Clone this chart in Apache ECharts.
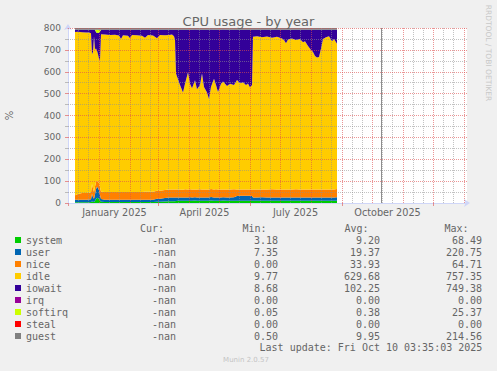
<!DOCTYPE html>
<html><head><meta charset="utf-8">
<script src="https://cdn.jsdelivr.net/npm/echarts@6/dist/echarts.min.js"></script>
<style>html,body{margin:0;padding:0;background:#F0F0F0}#c{width:497px;height:371px}</style>
</head><body><div id="c"></div>
<script>
const dates = ['2024-12-08','2024-12-11','2024-12-15','2024-12-19','2024-12-22','2024-12-24','2024-12-25','2024-12-26','2024-12-27','2024-12-28','2024-12-29','2024-12-30','2024-12-31',
'2025-01-01','2025-01-02','2025-01-03','2025-01-07','2025-01-12','2025-01-17','2025-01-21','2025-01-23','2025-01-25','2025-01-30',
'2025-02-01','2025-02-03','2025-02-08','2025-02-13','2025-02-16','2025-02-19','2025-02-24','2025-02-28',
'2025-03-03','2025-03-08','2025-03-12','2025-03-15','2025-03-17','2025-03-18','2025-03-19','2025-03-21','2025-03-23','2025-03-26','2025-03-28','2025-03-31',
'2025-04-02','2025-04-04','2025-04-07','2025-04-09','2025-04-12','2025-04-14','2025-04-16','2025-04-19','2025-04-21','2025-04-23','2025-04-26','2025-04-28','2025-04-30',
'2025-05-03','2025-05-05','2025-05-09','2025-05-12','2025-05-16','2025-05-19','2025-05-22','2025-05-25','2025-05-28','2025-05-30',
'2025-06-01','2025-06-03','2025-06-04','2025-06-08','2025-06-13','2025-06-18','2025-06-23','2025-06-28',
'2025-07-03','2025-07-05','2025-07-07','2025-07-09','2025-07-13','2025-07-17','2025-07-21','2025-07-24','2025-07-26','2025-07-29',
'2025-08-01','2025-08-03','2025-08-05','2025-08-07','2025-08-09','2025-08-11','2025-08-13','2025-08-16','2025-08-19','2025-08-22','2025-08-24','2025-08-27'];

const system = [4,4,4,4,4,5,7,6,5,10,18,24,22,
18,12,6,5,5,5,5,5,5,5,
5,5,5,5,5,5,5,6,
6,7,8,8,8,8,9,10,10,10,10,10,
10,10,11,10,10,10,10,10,10,11,10,10,10,
10,11,10,10,10,10,10,10,10,10,
10,10,10,10,10,10,10,10,
10,10,10,10,10,10,10,10,10,10,
10,10,10,10,10,10,10,10,10,10,10,10];
const user = [11,11,11,11,12,12,35,20,14,30,45,50,48,
40,25,12,10,10,10,10,10,10,10,
10,10,10,10,10,10,10,13,
14,16,17,17,17,17,16,15,15,15,15,15,
16,15,15,15,15,15,15,15,15,16,15,15,15,
15,15,15,15,16,22,23,23,23,23,
23,22,15,15,16,15,15,15,
15,15,15,15,15,15,15,15,15,15,
15,15,15,15,15,15,15,15,15,15,15,16];
const nice = [20,26,31,31,31,31,45,40,31,35,32,27,28,
32,35,33,35,35,35,35,35,35,35,
35,35,35,35,36,36,36,37,
36,36,37,37,37,37,37,37,37,36,38,37,
37,37,36,37,38,37,37,37,37,37,37,38,37,
37,36,37,37,37,30,29,29,29,29,
29,30,37,37,36,37,38,37,
37,37,37,37,37,38,37,37,37,37,
37,37,37,37,37,37,37,37,37,37,37,38];
const idle = [747,742,735,733,733,728,593,626,712,627,611,595,582,
570,580,721,720,718,719,716,700,717,715,
703,718,717,715,705,717,715,697,
712,708,706,708,700,683,530,504,478,444,482,536,
482,463,499,458,477,530,468,443,413,467,506,477,446,
483,494,473,483,477,500,486,490,478,484,
466,478,698,700,696,699,693,698,
690,683,668,686,690,682,688,673,678,656,
638,628,610,603,606,643,688,696,700,678,688,664];
const iowait = [10,9,11,13,12,16,112,100,30,90,76,81,97,
120,132,20,22,24,23,26,42,25,27,
39,24,25,27,36,24,26,39,
24,25,24,22,30,47,200,226,252,287,247,194,
247,267,232,272,252,200,262,287,317,262,224,252,284,
247,237,257,247,252,230,244,240,252,246,
264,252,32,30,34,31,36,32,
40,47,62,44,40,47,42,57,52,74,
92,102,120,127,124,87,42,34,30,52,42,64];
const irq = [0,0,0,0,0,0,0,0,0,0,0,0,0, 0,0,0,0,0,0,0,0,0,0, 0,0,0,0,0,0,0,0, 0,0,0,0,0,0,0,0,0,0,0,0,
0,0,0,0,0,0,0,0,0,0,0,0,0, 0,0,0,0,0,0,0,0,0,0, 0,0,0,0,0,0,0,0, 0,0,0,0,0,0,0,0,0,0, 0,0,0,0,0,0,0,0,0,0,0,0];
const softirq = [0.4,0.4,0.4,0.4,0.4,0.4,0.4,0.4,0.4,0.4,10,15,15,
12,8,0.4,0.4,0.4,0.4,0.4,0.4,0.4,0.4,
0.4,0.4,0.4,0.4,0.4,0.4,0.4,0.4,
0.4,0.4,0.4,0.4,0.4,0.4,0.4,0.4,0.4,0.4,0.4,0.4,
0.4,0.4,0.4,0.4,0.4,0.4,0.4,0.4,0.4,0.4,0.4,0.4,0.4,
0.4,0.4,0.4,0.4,0.4,0.4,0.4,0.4,0.4,0.4,
0.4,0.4,0.4,0.4,0.4,0.4,0.4,0.4,
0.4,0.4,0.4,0.4,0.4,0.4,0.4,0.4,0.4,0.4,
0.4,0.4,0.4,0.4,0.4,0.4,0.4,0.4,0.4,0.4,0.4,0.4];
const steal = [0,0,0,0,0,0,0,0,0,0,0,0,0, 0,0,0,0,0,0,0,0,0,0, 0,0,0,0,0,0,0,0, 0,0,0,0,0,0,0,0,0,0,0,0,
0,0,0,0,0,0,0,0,0,0,0,0,0, 0,0,0,0,0,0,0,0,0,0, 0,0,0,0,0,0,0,0, 0,0,0,0,0,0,0,0,0,0, 0,0,0,0,0,0,0,0,0,0,0,0];
const guest = [8,8,8,8,8,8,8,8,8,8,8,8,8, 8,8,8,8,8,8,8,8,8,8, 8,8,8,8,8,8,8,8, 8,8,8,8,8,8,8,8,8,8,8,8,
8,8,8,8,8,8,8,8,8,8,8,8,8, 8,8,8,8,8,8,8,8,8,8, 8,8,8,8,8,8,8,8, 8,8,8,8,8,8,8,8,8,8, 8,8,8,8,8,8,8,8,8,8,8,8];

const seriesNames = ['system','user','nice','idle','iowait','irq','softirq','steal','guest'];
const seriesColors = ['#00CC00','#0066B3','#FF8000','#FFCC00','#330099','#990099','#CCFF00','#FF0000','#808080'];
const legendCur = '-nan';
const legendMin = ['3.18','7.35','0.00','9.77','8.68','0.00','0.05','0.00','0.50'];
const legendAvg = ['9.20','19.37','33.93','629.68','102.25','0.00','0.38','0.00','9.95'];
const legendMax = ['68.49','220.75','64.71','757.35','749.38','0.00','25.37','0.00','214.56'];
const legendHeaders = ['Cur:','Min:','Avg:','Max:'];

const axisStart = '2024-12-01';
const axisDays = 399;
const monthStarts = ['2024-12-01','2025-01-01','2025-02-01','2025-03-01','2025-04-01','2025-05-01','2025-06-01','2025-07-01','2025-08-01','2025-09-01','2025-10-01','2025-11-01','2025-12-01','2026-01-01'];
const xTickDates = ['2024-12-01','2025-03-01','2025-06-01','2025-09-01','2025-12-01'];
const xLabelDates = ['2025-01-16T12:00:00Z','2025-04-16T12:00:00Z','2025-07-16T12:00:00Z','2025-10-16T12:00:00Z'];
const xLabelTexts = ['January 2025','April 2025','July 2025','October 2025'];
const nowDate = '2025-10-10T03:35:03Z';
const lastUpdate = 'Last update: Fri Oct 10 03:35:03 2025';
const yMajor = [100,200,300,400,500,600,700,800];
const yMinor = [50,150,250,350,450,550,650,750];

const DAY = 86400000;
const T0 = Date.parse(axisStart);
const T1 = T0 + axisDays * DAY;
const MAJ = 'rgba(222,79,79,0.6)';
const MIN = 'rgba(143,143,143,0.55)';

const layers = [system,user,nice,idle,iowait,irq,softirq,steal,guest];
const series = layers.map((arr, i) => ({
  name: seriesNames[i], type: 'line', stack: 'cpu', symbol: 'none', showSymbol: false,
  xAxisIndex: 0, yAxisIndex: 0,
  color: seriesColors[i],
  lineStyle: {width: 0, color: seriesColors[i]},
  itemStyle: {color: seriesColors[i]},
  areaStyle: {color: seriesColors[i], opacity: 1},
  data: dates.map((d, j) => [Date.parse(d), arr[j]]),
  animation: false, silent: true, z: 2
}));

const gridLines = [];
monthStarts.forEach(m => {
  const t = Date.parse(m);
  if (t > T0 && t <= T1) gridLines.push({xAxis: t, lineStyle: {color: MAJ, type: [1,1], width: 1}});
  [10, 20].forEach(k => {
    const tm = t + k * DAY;
    if (tm > T0 && tm < T1) gridLines.push({xAxis: tm, lineStyle: {color: MIN, type: [1,1], width: 1}});
  });
});
yMinor.forEach(v => gridLines.push({yAxis: v, lineStyle: {color: MIN, type: [1,1], width: 1}}));
yMajor.forEach(v => gridLines.push({yAxis: v, lineStyle: {color: MAJ, type: [1,1], width: 1}}));
gridLines.push({xAxis: Date.parse(nowDate), lineStyle: {color: '#8c8c8c', type: 'solid', width: 1}});

series.push({
  name: 'grid', type: 'line', xAxisIndex: 0, yAxisIndex: 0, data: [[T0, null]], silent: true, z: 5, animation: false, symbol: 'none',
  markLine: {silent: true, symbol: ['none','none'], label: {show: false}, animation: false, data: gridLines}
});

const xLabelTs = xLabelDates.map(d => Date.parse(d));
const rich = {
  n: {width: 126, align: 'left', fontFamily: 'DejaVu Sans Mono', fontSize: 10, color: '#666', lineHeight: 12},
  c: {width: 24, align: 'right', fontFamily: 'DejaVu Sans Mono', fontSize: 10, color: '#666', lineHeight: 12},
  m: {width: 102, align: 'right', fontFamily: 'DejaVu Sans Mono', fontSize: 10, color: '#666', lineHeight: 12},
  a: {width: 102, align: 'right', fontFamily: 'DejaVu Sans Mono', fontSize: 10, color: '#666', lineHeight: 12},
  x: {width: 102, align: 'right', fontFamily: 'DejaVu Sans Mono', fontSize: 10, color: '#666', lineHeight: 12}
};
const headerX = [164, 266.5, 368.5, 468.5];
const monoFont = {fontFamily: 'DejaVu Sans Mono', fontSize: 10, fill: '#666'};

const chart = echarts.init(document.getElementById('c'), null, {renderer: 'svg', width: 497, height: 371});
chart.setOption({
  animation: false,
  backgroundColor: '#F0F0F0',
  title: {text: 'CPU usage - by year', left: 'center', top: 10,
    textStyle: {fontFamily: 'DejaVu Sans', fontSize: 13, fontWeight: 'normal', color: '#666'}},
  grid: {left: 68, top: 28, width: 399, height: 175, show: true, backgroundColor: '#FFFFFF', borderWidth: 0,
    containLabel: false, outerBoundsMode: 'none'},
  legend: {
    orient: 'vertical', left: 15, top: 234, padding: 0, itemGap: 0, itemWidth: 6, itemHeight: 6,
    icon: 'rect', selectedMode: false, data: seriesNames,
    formatter: name => {
      const i = seriesNames.indexOf(name);
      return '{n|' + name + '}{c|' + legendCur + '}{m|' + legendMin[i] + '}{a|' + legendAvg[i] + '}{x|' + legendMax[i] + '}';
    },
    textStyle: {fontFamily: 'DejaVu Sans Mono', fontSize: 10, color: '#666', lineHeight: 12, rich: rich}
  },
  xAxis: [{
    type: 'time', min: T0, max: T1,
    axisLine: {show: true, lineStyle: {color: '#CFD6F8'}, symbol: ['none','arrow'], symbolSize: [6,6], symbolOffset: [0,3]},
    axisTick: {show: false}, axisLabel: {show: false}, splitLine: {show: false}
  }, {
    type: 'value', min: T0, max: T1, position: 'bottom', offset: 0,
    axisLine: {show: false},
    axisTick: {show: true, customValues: xTickDates.map(d => Date.parse(d)), length: 3, lineStyle: {color: MAJ}},
    axisLabel: {customValues: xLabelTs, color: '#666', fontFamily: 'DejaVu Sans', fontSize: 9.7, margin: 4,
      formatter: (v) => {
        let best = 0, bd = Infinity;
        xLabelTs.forEach((t, i) => { const dd = Math.abs(t - v); if (dd < bd) { bd = dd; best = i; } });
        return xLabelTexts[best];
      }},
    splitLine: {show: false}
  }],
  yAxis: {
    type: 'value', min: 0, max: 800, interval: 100,
    name: '%', nameLocation: 'middle', nameGap: 54, nameRotate: 90,
    nameTextStyle: {color: '#666', fontFamily: 'DejaVu Sans', fontSize: 10},
    axisLine: {show: true, lineStyle: {color: '#CFD6F8'}, symbol: ['none','arrow'], symbolSize: [6,6], symbolOffset: [0,4]},
    axisTick: {show: true, length: 3, lineStyle: {color: MAJ}},
    minorTick: {show: true, splitNumber: 2, length: 3, lineStyle: {color: MIN}},
    axisLabel: {color: '#666', fontFamily: 'DejaVu Sans', fontSize: 9, margin: 7},
    splitLine: {show: false}
  },
  graphic: [
    ...legendHeaders.map((h, i) => ({type: 'text', x: headerX[i], y: 228.5,
      style: Object.assign({text: h, align: 'right', verticalAlign: 'middle'}, monoFont)})),
    {type: 'text', x: 482.3, y: 347.7, style: Object.assign({text: lastUpdate, align: 'right', verticalAlign: 'middle'}, monoFont)},
    {type: 'text', x: 246, y: 360, style: {text: 'Munin 2.0.57', align: 'center', verticalAlign: 'middle', fontFamily: 'DejaVu Sans', fontSize: 7, fill: '#c4c4c4'}},
    {type: 'text', x: 488, y: 53, rotation: -Math.PI / 2, style: {text: 'RRDTOOL / TOBI OETIKER', align: 'center', verticalAlign: 'middle', fontFamily: 'DejaVu Sans', fontSize: 7.5, fill: '#c8c8c8'}}
  ],
  series: series
});
</script></body></html>
